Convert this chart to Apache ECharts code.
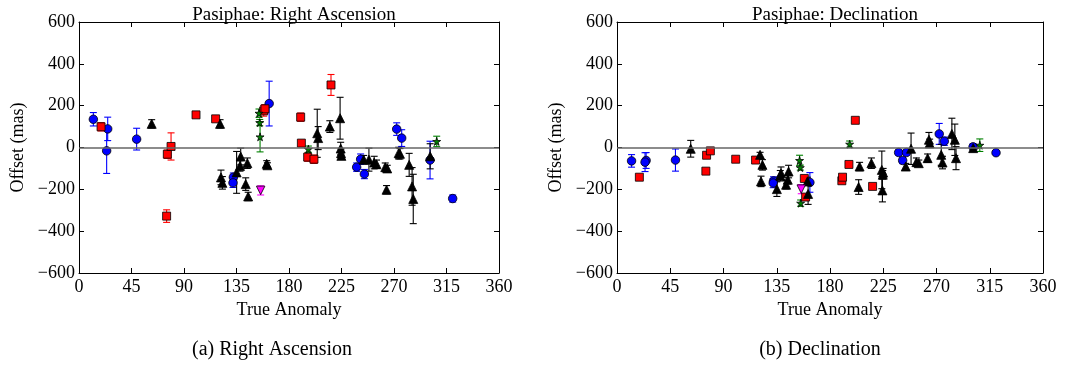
<!DOCTYPE html>
<html>
<head>
<meta charset="utf-8">
<script src="https://cdn.jsdelivr.net/npm/echarts@6/dist/echarts.min.js"></script>
<style>
html,body{margin:0;padding:0;background:#fff;}
#chart{width:1073px;height:365px;}
</style>
</head>
<body>
<div id="chart"></div>
<script>
// ---------- data ----------
const xTicks = [0, 45, 90, 135, 180, 225, 270, 315, 360];
const yTicks = [-600, -400, -200, 0, 200, 400, 600];
const panelTitles = ['Pasiphae: Right Ascension', 'Pasiphae: Declination'];
const captions = ['(a) Right Ascension', '(b) Declination'];

// blue circles
const blueX      = [12.3, 24.6, 23.7, 49.4, 132.3, 132.0, 163.0, 238.0, 241.4, 244.6, 272.3, 276.6, 300.9, 320.3];
const blueRA     = [135, 89, -16, 40, -142, -169, 210, -94, -56, -127, 88, 45, -60, -244];
const blueRAerr  = [32, 56, 108, 52, 20, 22, 107, 20, 25, 22, 30, 40, 90, 17];
const blueDec    = [-64, -62, -70, -60, -160, -170, -167, -24, -62, -24, 65, 30, 3, -25];
const blueDecErr = [30, 38, 45, 53, 20, 22, 47, 12, 15, 12, 50, 20, 15, 8];

// red squares
const redX      = [18.9, 75.1, 75.7, 78.9, 100.3, 117.1, 158.3, 159.4, 190.0, 190.6, 196.0, 201.4, 216.0];
const redRA     = [99, -328, -32, 5, 156, 137, 175, 185, 145, 21, -46, -56, 299];
const redRAerr  = [20, 30, 20, 65, 10, 10, 25, 20, 20, 10, 20, 20, 50];
const redDec    = [-142, -113, -37, -16, -56, -60, -148, -237, -159, -142, -81, 130, -186];
const redDecErr = [10, 8, 8, 8, 8, 12, 10, 12, 10, 10, 8, 8, 8];

// green stars
const greenX      = [154.3, 154.9, 155.2, 196.6, 306.6];
const greenRA     = [164, 119, 51, -8, 29];
const greenRAerr  = [20, 15, 72, 15, 25];
const greenDec    = [-62, -96, -266, 16, 11];
const greenDecErr = [25, 12, 15, 15, 30];

// magenta down triangles
const magX      = [155.7];
const magRA     = [-205];
const magRAerr  = [22];
const magDec    = [-199];
const magDecErr = [22];

// black triangles
const triX      = [62.3, 120.9, 121.7, 122.9, 135.1, 138.6, 138.0, 144.3, 142.9, 145.0, 160.9, 161.5, 204.2, 205.0, 215.0, 223.8, 224.3, 224.6, 224.9, 244.0, 248.5, 253.0, 255.0, 262.5, 263.6, 264.2, 274.0, 275.1, 283.0, 285.5, 286.5, 301.0];
const triRA     = [113, 113, -143, -169, -119, -43, -88, -75, -175, -234, -78, -85, 68, 45, 100, 140, -5, -27, -40, -58, -58, -72, -80, -94, -202, -100, -27, -30, -83, -186, -246, -42];
const triRAerr  = [20, 20, 35, 30, 100, 40, 25, 25, 30, 20, 15, 12, 115, 55, 28, 100, 30, 20, 15, 20, 55, 30, 20, 20, 20, 15, 28, 25, 55, 90, 118, 60];
const triDec    = [-6, -35, -162, -83, -199, -123, -135, -154, -178, -115, -162, -222, -189, -91, -75, -107, -205, -130, -120, -91, -6, -70, -75, -51, 37, 20, -35, -72, 65, 37, -51, -3];
const triDecErr = [40, 12, 25, 25, 35, 30, 25, 20, 20, 30, 20, 50, 35, 20, 25, 90, 55, 20, 20, 15, 75, 20, 15, 20, 35, 20, 50, 30, 75, 75, 55, 15];

// ---------- chart ----------
const FONT = 'Liberation Serif';
const STAR = 'path://M50,0 L61,35 L98,35 L68,57 L79,91 L50,70 L21,91 L32,57 L2,35 L39,35 Z';
const minus = v => String(v).replace('-', '\u2212');

const grids = [
  {left: 79, top: 22, width: 420, height: 251},
  {left: 617, top: 22, width: 426, height: 251}
];

const xAxes = [], yAxes = [];
[0, 1].forEach(g => {
  xAxes.push({
    gridIndex: g, type: 'value', min: xTicks[0], max: xTicks[xTicks.length - 1], interval: 45,
    position: 'bottom', name: 'True Anomaly', nameLocation: 'middle', nameGap: 27,
    nameTextStyle: {fontFamily: FONT, fontSize: 18, color: '#000'},
    axisLine: {onZero: false, lineStyle: {color: '#000', width: 1}},
    axisTick: {inside: true, length: 5, lineStyle: {color: '#000'}},
    axisLabel: {fontFamily: FONT, fontSize: 18, color: '#000', margin: 5, formatter: minus},
    splitLine: {show: false}
  });
  yAxes.push({
    gridIndex: g, type: 'value', min: yTicks[0], max: yTicks[yTicks.length - 1], interval: 200,
    position: 'left', name: 'Offset (mas)', nameLocation: 'middle', nameGap: 52, nameRotate: 90,
    nameTextStyle: {fontFamily: FONT, fontSize: 18, color: '#000'},
    axisLine: {onZero: false, lineStyle: {color: '#000', width: 1}},
    axisTick: {inside: true, length: 5, lineStyle: {color: '#000'}},
    axisLabel: {fontFamily: FONT, fontSize: 18, color: '#000', margin: 4, formatter: minus},
    splitLine: {show: false}
  });
});
[0, 1].forEach(g => {
  xAxes.push({
    gridIndex: g, type: 'value', min: xTicks[0], max: xTicks[xTicks.length - 1], interval: 45,
    position: 'top',
    axisLine: {onZero: false, lineStyle: {color: '#000', width: 1}},
    axisTick: {inside: true, length: 5, lineStyle: {color: '#000'}},
    axisLabel: {show: false}, splitLine: {show: false}
  });
  yAxes.push({
    gridIndex: g, type: 'value', min: yTicks[0], max: yTicks[yTicks.length - 1], interval: 200,
    position: 'right',
    axisLine: {onZero: false, lineStyle: {color: '#000', width: 1}},
    axisTick: {inside: true, length: 5, lineStyle: {color: '#000'}},
    axisLabel: {show: false}, splitLine: {show: false}
  });
});

function errSeries(xs, ys, es, color, g) {
  return {
    type: 'custom', xAxisIndex: g, yAxisIndex: g, silent: true, z: 3,
    data: xs.map((x, i) => [x, ys[i], es[i]]),
    renderItem: function (params, api) {
      const x = api.value(0), y = api.value(1), e = api.value(2);
      const t = api.coord([x, y + e]), b = api.coord([x, y - e]);
      const h = 3.5;
      const st = {stroke: color, lineWidth: 1.1, fill: null};
      return {
        type: 'group',
        children: [
          {type: 'line', shape: {x1: t[0], y1: t[1], x2: b[0], y2: b[1]}, style: st},
          {type: 'line', shape: {x1: t[0] - h, y1: t[1], x2: t[0] + h, y2: t[1]}, style: st},
          {type: 'line', shape: {x1: b[0] - h, y1: b[1], x2: b[0] + h, y2: b[1]}, style: st}
        ]
      };
    }
  };
}
function markSeries(xs, ys, symbol, size, color, g, rotate) {
  return {
    type: 'scatter', xAxisIndex: g, yAxisIndex: g, silent: true, z: 4,
    symbol: symbol, symbolSize: size, symbolRotate: rotate || 0,
    itemStyle: {color: color, borderColor: '#000', borderWidth: 0.8, opacity: 1},
    data: xs.map((x, i) => [x, ys[i]])
  };
}

const series = [];
[0, 1].forEach(g => {
  series.push({
    type: 'scatter', xAxisIndex: g, yAxisIndex: g, data: [], silent: true, z: 2,
    markLine: {silent: true, symbol: 'none', label: {show: false}, animation: false,
      lineStyle: {color: '#666', width: 1.6, type: 'solid'}, data: [{yAxis: 0}]}
  });
});
const sets = [
  {x: blueX,  v: [blueRA, blueDec],   e: [blueRAerr, blueDecErr],   c: '#0000ff', sym: 'circle',   size: 8.5},
  {x: redX,   v: [redRA, redDec],     e: [redRAerr, redDecErr],     c: '#ff0000', sym: 'rect',     size: 8},
  {x: triX,   v: [triRA, triDec],     e: [triRAerr, triDecErr],     c: '#000000', sym: 'triangle', size: 9},
  {x: greenX, v: [greenRA, greenDec], e: [greenRAerr, greenDecErr], c: '#008000', sym: STAR,       size: 8},
  {x: magX,   v: [magRA, magDec],     e: [magRAerr, magDecErr],     c: '#ff00ff', sym: 'triangle', size: 8.5, rot: 180}
];
[0, 1].forEach(g => {
  sets.forEach(s => {
    series.push(errSeries(s.x, s.v[g], s.e[g], s.c, g));
    series.push(markSeries(s.x, s.v[g], s.sym, s.size, s.c, g, s.rot));
  });
});

const chart = echarts.init(document.getElementById('chart'), null, {renderer: 'canvas'});
const tStyle = size => ({fontFamily: FONT, fontSize: size, fontWeight: 'normal', color: '#000'});
chart.setOption({
  animation: false,
  backgroundColor: '#fff',
  title: [
    {text: panelTitles[0], left: 289, top: 1, textAlign: 'center', textStyle: tStyle(19)},
    {text: panelTitles[1], left: 830, top: 1, textAlign: 'center', textStyle: tStyle(19)},
    {text: captions[0], left: 267, top: 335, textAlign: 'center', textStyle: tStyle(20)},
    {text: captions[1], left: 815, top: 335, textAlign: 'center', textStyle: tStyle(20)}
  ],
  grid: grids,
  xAxis: xAxes,
  yAxis: yAxes,
  series: series
});
</script>
</body>
</html>
